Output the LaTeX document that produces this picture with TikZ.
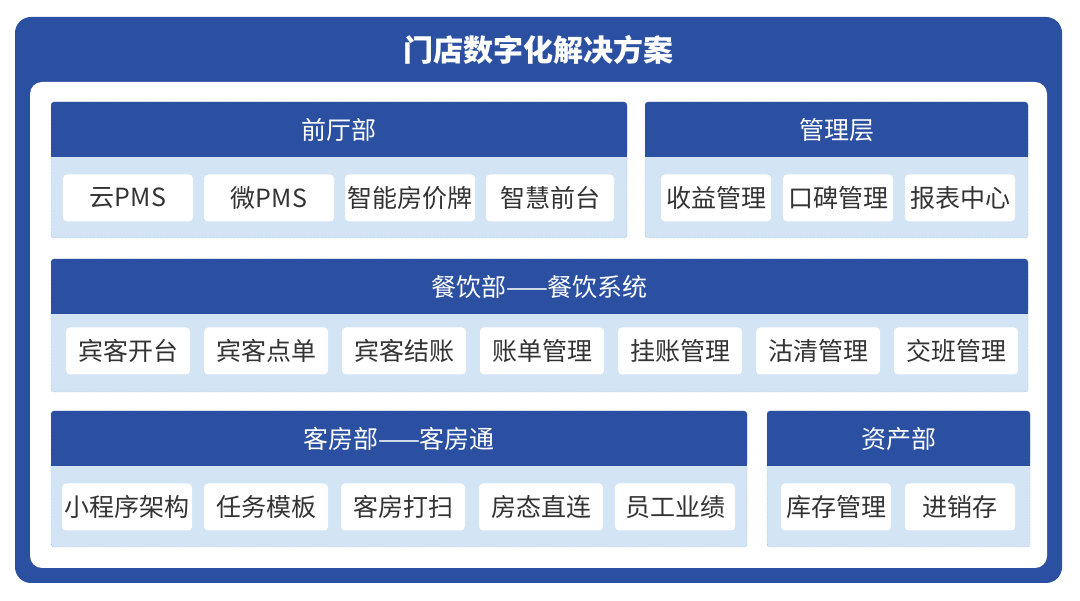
\documentclass[tikz,border=0pt]{standalone}
\usepackage{fontspec}
\setmainfont{Noto Sans CJK SC}
\definecolor{dk}{HTML}{2B50A2}
\definecolor{lt}{HTML}{D3E4F5}
\definecolor{tx}{HTML}{333333}
\begin{document}
\begin{tikzpicture}[x=1pt,y=-1pt,
 panel/.style={fill=lt,draw=dk!70,densely dotted,rounded corners=3pt},
 hdr/.style={fill=dk,rounded corners=3pt},
 item/.style={fill=white,rounded corners=4pt,text=tx,font=\fontsize{25}{25}\selectfont,inner sep=0pt},
 htext/.style={text=white,font=\fontsize{25}{25}\selectfont}]
\useasboundingbox (0,0) rectangle (1080,601);
\fill[dk,rounded corners=16pt] (15,17) rectangle (1062,583);
\node[text=white,font=\bfseries\fontsize{30}{30}\selectfont] (title) at (538,50) {门店数字化解决方案};
\fill[white,rounded corners=12pt] (30,82) rectangle (1047,568);
% panels
\newcommand\pnl[6]{%
 \draw[panel] (#1,#2) rectangle (#3,#4);
 \fill[hdr] (#1,#2) rectangle (#3,#2+55);
 \fill[dk] (#1,#2+45) rectangle (#3,#2+55);
 \node[htext] (#5) at ({(#1+#3)/2},#2+28) {#6};}
\pnl{51}{102}{627}{238}{h1}{前厅部}
\pnl{645}{102}{1028}{238}{h2}{管理层}
\pnl{51}{259}{1028}{392}{h3}{餐饮部——餐饮系统}
\pnl{51}{411}{747}{547}{h4}{客房部——客房通}
\pnl{767}{411}{1030}{547}{h5}{资产部}
\newcommand\itm[5]{\node[item,minimum width=#3-#2,minimum height=47] (#1) at ({(#2+#3)/2},#4) {#5};}
\itm{a1}{63}{193}{198}{云PMS}
\itm{a2}{204}{334}{198}{微PMS}
\itm{a3}{345}{475}{198}{智能房价牌}
\itm{a4}{486}{614}{198}{智慧前台}
\itm{b1}{661}{771}{198}{收益管理}
\itm{b2}{783}{893}{198}{口碑管理}
\itm{b3}{905}{1015}{198}{报表中心}
\itm{c1}{66}{190}{351}{宾客开台}
\itm{c2}{204}{328}{351}{宾客点单}
\itm{c3}{342}{466}{351}{宾客结账}
\itm{c4}{480}{604}{351}{账单管理}
\itm{c5}{618}{742}{351}{挂账管理}
\itm{c6}{756}{880}{351}{沽清管理}
\itm{c7}{894}{1018}{351}{交班管理}
\itm{d1}{62}{192}{507}{小程序架构}
\itm{d2}{204}{328}{507}{任务模板}
\itm{d3}{341}{465}{507}{客房打扫}
\itm{d4}{479}{603}{507}{房态直连}
\itm{d5}{615}{735}{507}{员工业绩}
\itm{e1}{781}{891}{507}{库存管理}
\itm{e2}{905}{1015}{507}{进销存}
\end{tikzpicture}
\end{document}
